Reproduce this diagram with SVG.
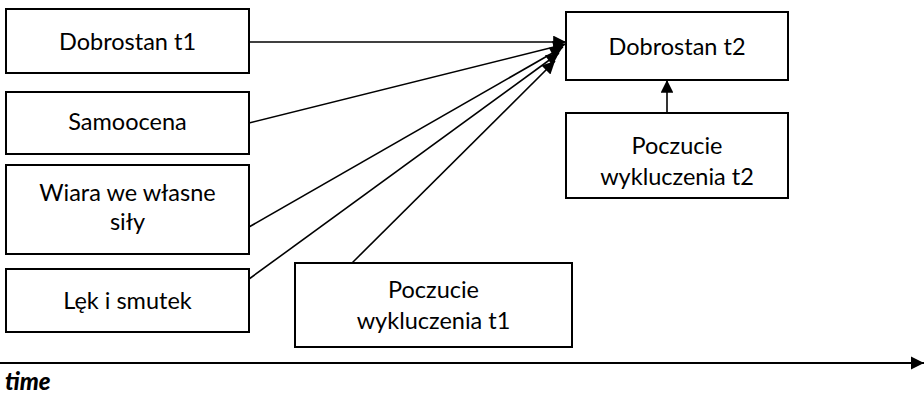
<svg xmlns="http://www.w3.org/2000/svg" width="924" height="394" viewBox="0 0 924 394">
<style>
.box{fill:#fff;stroke:#000;stroke-width:2}
.t{font-family:Lato,"Open Sans",sans-serif;font-size:23.5px;fill:#000;text-anchor:middle}
.c{stroke:#000;stroke-width:1.6;fill:none;marker-end:url(#ah)}
.ax{stroke:#000;stroke-width:1.8;fill:none;marker-end:url(#ah2)}
.time{font-family:Lato,"Open Sans",sans-serif;font-size:24px;font-weight:900;font-style:italic;fill:#000}
</style>
<defs>
<marker id="ah" viewBox="0 0 10 10" refX="10" refY="5" markerWidth="9.5" markerHeight="8" orient="auto" markerUnits="strokeWidth">
<path d="M0,0 L10,5 L0,10 z" fill="#000"/>
</marker>
<marker id="ah2" viewBox="0 0 10 10" refX="10" refY="5" markerWidth="7.5" markerHeight="8" orient="auto" markerUnits="strokeWidth">
<path d="M0,0 L10,5 L0,10 z" fill="#000"/>
</marker>
</defs>
<rect width="924" height="394" fill="#fff"/>
<g id="connectors">
<line class="c" x1="249" y1="42" x2="566" y2="42"/>
<line class="c" x1="249" y1="123" x2="566" y2="44"/>
<line class="c" x1="249" y1="227" x2="563" y2="47"/>
<line class="c" x1="249" y1="279" x2="559" y2="53"/>
<line class="c" x1="352" y1="263" x2="555" y2="61"/>
<line class="c" x1="667" y1="113" x2="667" y2="80"/>
<line class="ax" x1="0" y1="363" x2="924" y2="363"/>
</g>
<g id="dobrostan-t1">
<rect class="box" x="6" y="9" width="243" height="64"/>
<text class="t" x="127.5" y="50">Dobrostan t1</text>
</g>
<g id="samoocena">
<rect class="box" x="6" y="92" width="243" height="62"/>
<text class="t" x="127.5" y="130">Samoocena</text>
</g>
<g id="wiara">
<rect class="box" x="6" y="165" width="243" height="89"/>
<text class="t" x="127.5" y="201">Wiara we własne</text>
<text class="t" x="127.5" y="230">siły</text>
</g>
<g id="lek">
<rect class="box" x="6" y="269" width="243" height="63"/>
<text class="t" x="127.5" y="309">Lęk i smutek</text>
</g>
<g id="poczucie-t1">
<rect class="box" x="295" y="263" width="277" height="84"/>
<text class="t" x="433.5" y="298">Poczucie</text>
<text class="t" x="433.5" y="329">wykluczenia t1</text>
</g>
<g id="dobrostan-t2">
<rect class="box" x="566" y="12" width="222" height="68"/>
<text class="t" x="677" y="55">Dobrostan t2</text>
</g>
<g id="poczucie-t2">
<rect class="box" x="566" y="113" width="222" height="85"/>
<text class="t" x="677" y="154">Poczucie</text>
<text class="t" x="677" y="185">wykluczenia t2</text>
</g>
<text class="time" x="5" y="390">time</text>
</svg>
